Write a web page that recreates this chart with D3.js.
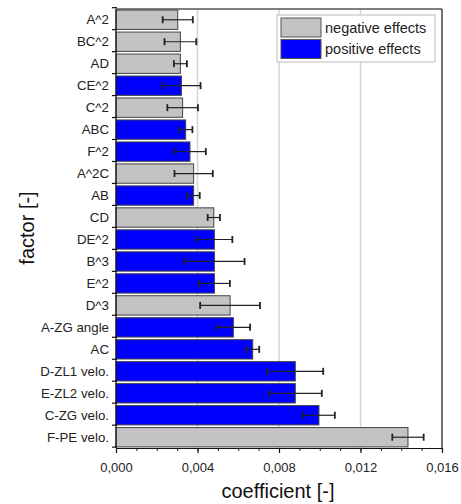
<!DOCTYPE html>
<html>
<head>
<meta charset="utf-8">
<script src="https://cdn.jsdelivr.net/npm/d3@7"></script>
<style>
  body { margin: 0; background: #fff; }
  svg { display: block; font-family: "Liberation Sans", Arial, sans-serif; }
</style>
</head>
<body>
<div id="chart"></div>
<script>
// factors from top to bottom
var factors = ["A^2", "BC^2", "AD", "CE^2", "C^2", "ABC", "F^2", "A^2C", "AB", "CD",
               "DE^2", "B^3", "E^2", "D^3", "A-ZG angle", "AC", "D-ZL1 velo.", "E-ZL2 velo.",
               "C-ZG velo.", "F-PE velo."];
var coefs = [0.00303, 0.00316, 0.00316, 0.00321, 0.00327, 0.00342, 0.00363, 0.00381, 0.00381, 0.0048,
             0.00483, 0.00483, 0.00483, 0.0056, 0.00576, 0.00671, 0.0088, 0.0088, 0.00996, 0.01433];
var errs = [0.00074, 0.00078, 0.00032, 0.00094, 0.00075, 0.00033, 0.00078, 0.00094, 0.0003, 0.0003,
            0.00088, 0.00148, 0.00076, 0.00147, 0.00082, 0.00032, 0.00137, 0.0013, 0.00078, 0.00077];
var effects = ["neg", "neg", "neg", "pos", "neg", "pos", "pos", "neg", "pos", "neg",
               "pos", "pos", "pos", "neg", "pos", "pos", "pos", "pos", "pos", "neg"];
var xTicks = [0, 0.004, 0.008, 0.012, 0.016];
var legendLabels = {neg: "negative effects", pos: "positive effects"};

var W = 461, H = 504;
var margin = {top: 9, right: 19, bottom: 56, left: 116};
var width = W - margin.left - margin.right,
    height = H - margin.top - margin.bottom;

var colors = {neg: "#c3c3c3", pos: "#0000ff"};

var svg = d3.select("#chart").append("svg")
    .attr("width", W)
    .attr("height", H);

var g = svg.append("g")
    .attr("transform", "translate(" + margin.left + "," + margin.top + ")");

var x = d3.scaleLinear().domain([0, 0.016]).range([0, width]);
var y = d3.scaleBand().domain(factors).range([0, height]).paddingInner(0.12).paddingOuter(0.05);

var fmt = function(d) { return d3.format(".3f")(d).replace(".", ","); };

// grid lines
g.selectAll("line.grid")
    .data(xTicks.slice(1, -1))
    .enter().append("line")
    .attr("class", "grid")
    .attr("x1", function(d) { return x(d); })
    .attr("x2", function(d) { return x(d); })
    .attr("y1", 0).attr("y2", height)
    .attr("stroke", "#d4d4d4")
    .attr("stroke-width", 1.5);

var rows = factors.map(function(f, i) {
  return {name: f, value: coefs[i], err: errs[i], effect: effects[i]};
});

// bars
g.selectAll("rect.bar")
    .data(rows)
    .enter().append("rect")
    .attr("class", "bar")
    .attr("x", x(0))
    .attr("y", function(d) { return y(d.name); })
    .attr("width", function(d) { return x(d.value) - x(0); })
    .attr("height", y.bandwidth())
    .attr("fill", function(d) { return colors[d.effect]; })
    .attr("stroke", "#444")
    .attr("stroke-width", 1);

// error bars
var eb = g.selectAll("g.err")
    .data(rows)
    .enter().append("g")
    .attr("class", "err")
    .attr("stroke", "#222")
    .attr("stroke-width", 1.2);

eb.append("line")
    .attr("x1", function(d) { return x(d.value - d.err); })
    .attr("x2", function(d) { return x(d.value + d.err); })
    .attr("y1", function(d) { return y(d.name) + y.bandwidth() / 2; })
    .attr("y2", function(d) { return y(d.name) + y.bandwidth() / 2; });

[-1, 1].forEach(function(s) {
  eb.append("line")
      .attr("x1", function(d) { return x(d.value + s * d.err); })
      .attr("x2", function(d) { return x(d.value + s * d.err); })
      .attr("y1", function(d) { return y(d.name) + y.bandwidth() / 2 - 3.5; })
      .attr("y2", function(d) { return y(d.name) + y.bandwidth() / 2 + 3.5; })
      .attr("stroke-width", 1.8);
});

// frame top / right
g.append("line")
    .attr("x1", 0).attr("x2", width).attr("y1", 0).attr("y2", 0)
    .attr("stroke", "#555").attr("stroke-width", 1.5);
g.append("line")
    .attr("x1", width).attr("x2", width).attr("y1", 0).attr("y2", height)
    .attr("stroke", "#111").attr("stroke-width", 1.2);

// x axis with minor ticks
var minor = d3.range(0, 0.01601, 0.001);
g.append("g")
    .attr("transform", "translate(0," + height + ")")
    .call(d3.axisBottom(x).tickValues(minor).tickSize(3).tickFormat(""))
    .call(function(a) { a.select(".domain").remove(); a.selectAll("line").attr("stroke", "#222"); });

var xAxis = g.append("g")
    .attr("transform", "translate(0," + height + ")")
    .call(d3.axisBottom(x).tickValues(xTicks).tickSize(5).tickSizeOuter(0).tickFormat(fmt));
xAxis.select(".domain").attr("stroke", "#111").attr("stroke-width", 1.2);
xAxis.selectAll("line").attr("stroke", "#111").attr("stroke-width", 1.2);
xAxis.selectAll("text")
    .attr("font-size", 13)
    .attr("fill", "#222")
    .attr("dy", "1.2em");

// y axis: ticks at row boundaries
var yAxis = g.append("g");
yAxis.append("line")
    .attr("x1", 0).attr("x2", 0).attr("y1", 0).attr("y2", height)
    .attr("stroke", "#111").attr("stroke-width", 1.2);
var step = y.step();
var boundary = function(i) {
  return y(factors[0]) - step * y.paddingOuter() + i * step - step * y.paddingInner() / 2;
};
yAxis.selectAll("line.tick")
    .data(d3.range(0, factors.length + 1))
    .enter().append("line")
    .attr("class", "tick")
    .attr("x1", -4).attr("x2", 1)
    .attr("y1", boundary)
    .attr("y2", boundary)
    .attr("stroke", "#111").attr("stroke-width", 1.2);

yAxis.selectAll("text")
    .data(factors)
    .enter().append("text")
    .attr("x", -7)
    .attr("y", function(d) { return y(d) + y.bandwidth() / 2; })
    .attr("dy", "0.35em")
    .attr("text-anchor", "end")
    .attr("font-size", 13.3)
    .attr("fill", "#222")
    .text(function(d) { return d; });

// axis titles
svg.append("text")
    .attr("x", margin.left + x(0.008) - 1)
    .attr("y", 498)
    .attr("text-anchor", "middle")
    .attr("font-size", 20)
    .attr("fill", "#111")
    .text("coefficient [-]");

svg.append("text")
    .attr("transform", "translate(34," + (margin.top + 219) + ") rotate(-90)")
    .attr("text-anchor", "middle")
    .attr("font-size", 20)
    .attr("fill", "#111")
    .text("factor [-]");

// legend
var legend = svg.append("g").attr("transform", "translate(277,15)");
legend.append("rect")
    .attr("width", 158).attr("height", 47)
    .attr("fill", "#fff")
    .attr("stroke", "#bbb").attr("stroke-width", 1);
["neg", "pos"].forEach(function(k, i) {
  legend.append("rect")
      .attr("x", 4).attr("y", 3 + i * 21.5)
      .attr("width", 40).attr("height", 19)
      .attr("fill", colors[k])
      .attr("stroke", "#555").attr("stroke-width", 1);
  legend.append("text")
      .attr("x", 48).attr("y", 12.5 + i * 21.5)
      .attr("dy", "0.35em")
      .attr("font-size", 14.5)
      .attr("fill", "#222")
      .text(legendLabels[k]);
});
</script>
</body>
</html>
